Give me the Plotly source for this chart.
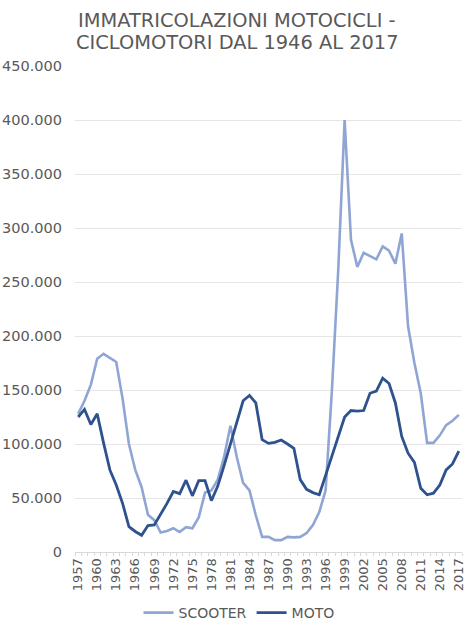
import plotly.graph_objects as go

years = list(range(1957, 2018))

scooter = [
    128000, 140000, 155000, 179000, 183500, 180000, 176000, 142000, 100000, 76000,
    60000, 34500, 29500, 18000, 19500, 22000, 18500, 23000, 22000, 32000,
    55000, 57000, 67000, 88000, 117000, 88000, 64000, 57000, 34000, 14000,
    14000, 11000, 11000, 14000, 13500, 14000, 17500, 25000, 37000, 57000,
    150000, 262000, 400000, 289000, 264000, 277000, 274000, 271000, 283000, 279000,
    267000, 295000, 209000, 175000, 147000, 101000, 101000, 108000, 117500, 121500,
    127000,
]

moto = [
    125000, 132000, 118000, 128000, 101000, 76000, 62000, 45000, 23500, 19000,
    15500, 24500, 25000, 34500, 45000, 56000, 54000, 66500, 52000, 66000,
    66000, 47500, 61000, 80000, 100000, 121000, 140000, 145000, 138000, 104000,
    100600, 101500, 103700, 100000, 96000, 67000, 58000, 55000, 53000, 71000,
    89000, 107000, 125000, 131000, 130500, 131000, 147000, 149000, 161000, 156000,
    138000, 107000, 91500, 83000, 59000, 53000, 54500, 62000, 76000, 81500,
    93500,
]

tick_years = list(range(1957, 2018, 3))
title_lines = ["IMMATRICOLAZIONI MOTOCICLI -", "CICLOMOTORI DAL 1946 AL 2017"]

grey = "#595959"
font = "DejaVu Sans, Verdana, sans-serif"

fig = go.Figure()
fig.add_trace(go.Scatter(
    x=years, y=scooter, name="SCOOTER", mode="lines",
    line=dict(color="#8fa5d3", width=2.6),
))
fig.add_trace(go.Scatter(
    x=years, y=moto, name="MOTO", mode="lines",
    line=dict(color="#2f528f", width=2.8),
))

# plot area: 75..462 px horizontally, 66..552 px vertically
for i, txt in enumerate(title_lines):
    fig.add_annotation(
        text=txt, xref="paper", yref="paper",
        x=(237 - 75) / 387, y=(552 - (20 + 23 * i)) / 486,
        showarrow=False, xanchor="center", yanchor="middle",
        font=dict(family=font, size=19.4, color=grey),
    )

fig.update_layout(
    width=474, height=632,
    margin=dict(l=75, r=12, t=66, b=80, autoexpand=False),
    paper_bgcolor="white", plot_bgcolor="white",
    separators=",.",
    showlegend=True,
    legend=dict(
        orientation="h", x=(239 - 75) / 387, xanchor="center",
        y=(552 - 613) / 486, yanchor="middle",
        font=dict(family=font, size=14, color=grey),
        itemwidth=30,
    ),
    font=dict(family=font, color=grey),
)
fig.update_xaxes(
    range=[1956.5, 2017.5], automargin=False,
    tickmode="array", tickvals=tick_years, ticktext=[str(y) for y in tick_years],
    tickangle=-90, tickfont=dict(family=font, size=13, color=grey),
    showgrid=False, zeroline=False,
    showline=True, linecolor="#d9d9d9", linewidth=1,
    ticks="",
    minor=dict(ticks="outside", dtick=1, tick0=1956.5, ticklen=3, tickcolor="#d9d9d9"),
)
fig.update_yaxes(
    range=[0, 450000], dtick=50000, tickformat=",d", automargin=False,
    tickfont=dict(family=font, size=14.5, color=grey),
    showgrid=True, gridcolor="#e6e6e6", gridwidth=1,
    zeroline=False, showline=False, ticks="", ticklabelstandoff=12,
)

# drop the default 8px page margin so the figure fills the window exactly
fig.write_html(
    "out.html",
    config={"displayModeBar": False},
    post_script="document.body.style.margin='0';",
)
